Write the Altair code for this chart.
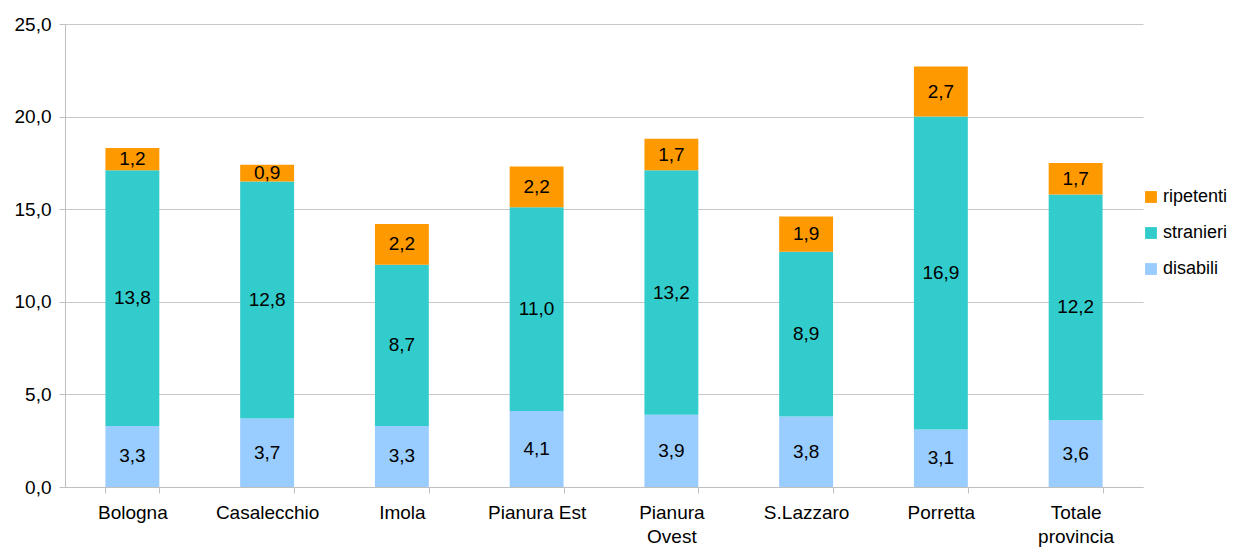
import altair as alt
import pandas as pd

categories = ["Bologna", "Casalecchio", "Imola", "Pianura Est", "Pianura|Ovest", "S.Lazzaro", "Porretta", "Totale|provincia"]
disabili = [3.3, 3.7, 3.3, 4.1, 3.9, 3.8, 3.1, 3.6]
stranieri = [13.8, 12.8, 8.7, 11.0, 13.2, 8.9, 16.9, 12.2]
ripetenti = [1.2, 0.9, 2.2, 2.2, 1.7, 1.9, 2.7, 1.7]

series = ["ripetenti", "stranieri", "disabili"]
colors = ["#FF9900", "#33CCCC", "#99CCFF"]
stack_order = {"disabili": 0, "stranieri": 1, "ripetenti": 2}

rows = []
for i, c in enumerate(categories):
    for s, vals in (("disabili", disabili), ("stranieri", stranieri), ("ripetenti", ripetenti)):
        rows.append({"cat": c, "serie": s, "val": vals[i], "ord": stack_order[s]})
df = pd.DataFrame(rows)

FONT = "Liberation Sans"
FS = 19

base = alt.Chart(df)

bars = base.mark_bar().encode(
    x=alt.X("cat:N", sort=categories, title=None,
            scale=alt.Scale(paddingInner=0.6, paddingOuter=0.3),
            axis=alt.Axis(labelAngle=0,
                          labelExpr="isValid(datum.value) ? split(datum.value, '|') : ''",
                          tickBand="extent", labelPadding=10, labelFontSize=FS,
                          labelLineHeight=24, labelColor="#000000", labelFont=FONT,
                          domainColor="#BFBFBF", tickColor="#BFBFBF", tickSize=6)),
    y=alt.Y("val:Q", stack="zero", title=None,
            scale=alt.Scale(domain=[0, 25], nice=False),
            axis=alt.Axis(values=[0, 5, 10, 15, 20, 25],
                          labelExpr="replace(format(datum.value, '.1f'), '.', ',')",
                          labelFontSize=FS, labelColor="#000000", labelFont=FONT,
                          gridColor="#C8C8C8", domainColor="#BFBFBF",
                          tickColor="#BFBFBF", tickSize=6, labelPadding=8)),
    color=alt.Color("serie:N", sort=series,
                    scale=alt.Scale(domain=series, range=colors),
                    legend=alt.Legend(title=None, orient="none", legendX=1077, legendY=164,
                                      padding=0, symbolType="square", symbolSize=140,
                                      symbolStrokeWidth=0, labelFontSize=18,
                                      labelFont=FONT, labelColor="#000000",
                                      rowPadding=18, labelOffset=3, labelLimit=200)),
    order=alt.Order("ord:Q"),
)

labels = base.transform_calculate(
    lab="replace(format(datum.val, '.1f'), '.', ',')"
).transform_stack(
    stack="val", groupby=["cat"], as_=["v0", "v1"], sort=[alt.SortField("ord")]
).transform_calculate(
    mid="(datum.v0 + datum.v1) / 2"
).mark_text(fontSize=FS, font=FONT, color="#000000", baseline="middle").encode(
    x=alt.X("cat:N", sort=categories),
    y=alt.Y("mid:Q"),
    text="lab:N",
)

chart = (bars + labels).properties(
    width=1078, height=463,
    autosize=alt.AutoSizeParams(type="none"),
    padding={"left": 57, "top": 16, "right": 91, "bottom": 60},
).configure_view(stroke=None).configure_axis(grid=True).configure_axisX(grid=False)

chart.save("out.html", embed_options={"renderer": "svg", "actions": False})
